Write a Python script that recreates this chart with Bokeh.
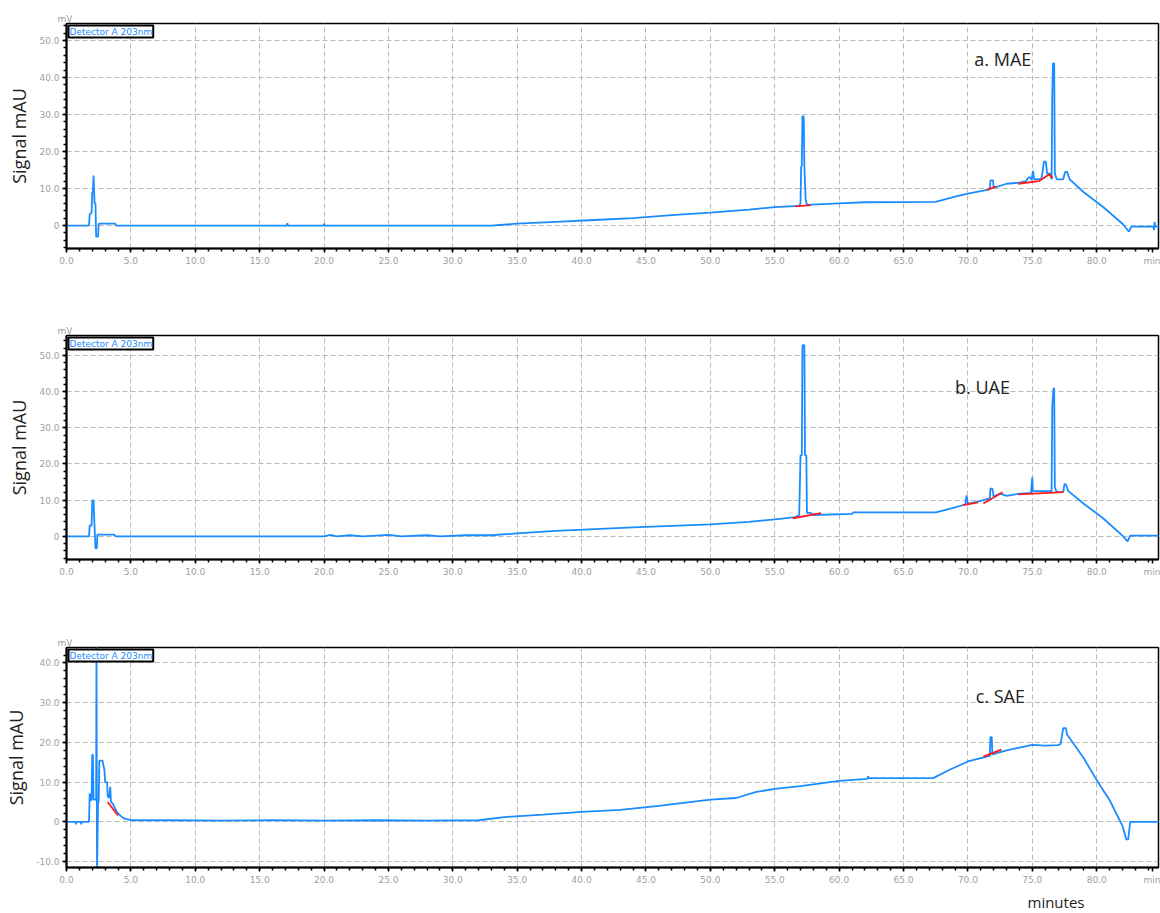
from bokeh.plotting import figure
from bokeh.layouts import column
from bokeh.models import Range1d, FixedTicker, PrintfTickFormatter, Label, Title
from bokeh.embed import file_html
from bokeh.resources import INLINE

# ---------------- data ----------------
# a. MAE chromatogram (time in minutes, signal)
mae_t = [0, 1.75, 1.8, 1.95, 2.0, 2.05, 2.1, 2.18, 2.25, 2.3, 2.45, 2.5, 3.8, 3.85,
         17.1, 17.15, 17.2, 19.95, 20.0, 20.05, 33.0, 35.0, 38.0, 41.0, 44.0, 47.0,
         50.0, 53.0, 55.0, 56.9, 57.0, 57.05, 57.1, 57.15, 57.25, 57.3, 57.4, 57.5,
         60.0, 62.0, 67.5, 69.0, 70.0, 71.0, 71.7, 71.75, 71.95, 72.0, 73.0, 74.0,
         74.5, 74.7, 74.85, 74.95, 75.05, 75.15, 75.7, 75.8, 75.9, 76.05, 76.15,
         76.4, 76.5, 76.55, 76.6, 76.7, 76.75, 76.9, 77.4, 77.55, 77.7, 77.9, 79.0,
         80.5, 82.0, 82.5, 82.7, 84.4, 84.45, 84.5, 84.55, 85.0]
mae_v = [0, 0, 3, 3.5, 9, 9, 13.5, 6, 6, -3, -3, 0.5, 0.5, 0,
         0, 0.6, 0, 0, 0.5, 0, 0, 0.5, 1.0, 1.5, 2.0, 2.8,
         3.5, 4.3, 5.0, 5.3, 6.0, 16.0, 16.0, 29.5, 29.5, 16.0, 7.0, 5.6,
         6.0, 6.3, 6.4, 7.8, 8.6, 9.3, 9.8, 12.2, 12.2, 10.2, 11.3, 11.6,
         12.0, 13.0, 13.0, 12.3, 14.8, 12.5, 12.6, 14.5, 17.3, 17.3, 14.0,
         14.0, 12.5, 35.0, 43.8, 43.8, 14.0, 12.5, 12.5, 14.5, 14.5, 12.5, 9.0,
         5.0, 0.5, -1.6, -0.3, -0.3, -1.2, 1.0, -0.3, -0.3]
mae_base_t = [[56.6, 57.8], [71.5, 72.2], [73.9, 75.5], [75.5, 76.3, 76.6]]
mae_base_v = [[5.2, 5.5], [9.7, 10.5], [11.3, 12.0], [12.0, 13.8, 12.8]]

# b. UAE chromatogram
uae_t = [0, 1.75, 1.8, 1.95, 2.0, 2.1, 2.15, 2.25, 2.35, 2.4, 3.7, 3.8,
         20.0, 20.5, 21.0, 22.0, 23.0, 25.0, 26.0, 28.0, 29.0, 31.0, 33.0,
         35.0, 38.0, 41.0, 44.0, 47.0, 50.0, 53.0, 55.0, 56.6, 56.9, 57.0, 57.1,
         57.15, 57.3, 57.35, 57.45, 57.5, 57.8, 58.0, 61.0, 61.1, 67.5, 68.5,
         69.8, 69.9, 70.0, 71.0, 71.7, 71.75, 71.9, 72.0, 72.5, 73.0, 74.0, 74.9,
         74.95, 75.0, 75.05, 76.0, 76.5, 76.55, 76.65, 76.7, 76.75, 76.9, 77.4,
         77.5, 77.6, 77.8, 79.0, 80.5, 82.0, 82.4, 82.6, 85.0]
uae_v = [0, 0, 3, 3, 9.9, 9.9, 5, -3.3, -3.3, 0.5, 0.5, 0,
         0, 0.4, 0, 0.3, 0, 0.4, 0, 0.3, 0, 0.3, 0.3,
         0.8, 1.5, 2.0, 2.5, 2.9, 3.3, 4.0, 4.7, 5.3, 6.0, 22.4, 22.4,
         52.8, 52.8, 22.4, 22.4, 6.5, 6.5, 5.9, 6.2, 6.6, 6.6, 7.5,
         8.8, 11.3, 9.0, 9.8, 10.5, 13.2, 13.2, 11.0, 11.8, 11.2, 11.8, 12.0,
         14.3, 16.3, 12.5, 12.5, 12.5, 35.9, 40.9, 40.9, 13.5, 12.2, 12.2,
         14.4, 14.4, 12.5, 9.0, 5.0, 0.2, -1.4, 0.2, 0.2]
uae_base_t = [[56.4, 58.6], [69.6, 70.8], [71.2, 72.7], [73.9, 77.4]]
uae_base_v = [[5.0, 6.4], [8.6, 9.4], [9.1, 12.2], [11.6, 12.2]]

# c. SAE chromatogram
sae_t = [0, 0.7, 0.75, 0.8, 1.1, 1.15, 1.2, 1.75, 1.8, 1.9, 1.95, 2.0, 2.05, 2.1,
         2.3, 2.33, 2.37, 2.45, 2.5, 2.55, 2.8, 2.85, 2.95, 3.0, 3.15, 3.2, 3.3,
         3.4, 3.45, 3.6, 3.9, 4.2, 4.5, 5.0, 8.0, 12.0, 16.0, 20.0, 24.0, 28.0,
         32.0, 34.0, 37.0, 40.0, 43.0, 46.0, 50.0, 52.0, 53.5, 55.0, 57.0, 60.0,
         62.2, 62.25, 62.3, 67.3, 68.5, 70.0, 71.7, 71.75, 71.85, 71.9, 73.0,
         74.0, 75.0, 76.0, 77.0, 77.2, 77.4, 77.6, 77.7, 79.0, 80.0, 81.0, 82.0,
         82.3, 82.45, 82.6, 85.0]
sae_v = [0, 0, -0.6, 0, 0, -0.6, 0, 0, 7.1, 5.5, 5.5, 16.9, 16.9, 5.6,
         5.6, 46.0, -13.0, 5.0, 5.0, 15.4, 15.4, 14.5, 13.0, 10.0, 10.0, 6.5, 6.0,
         8.8, 5.0, 4.5, 2.5, 1.5, 0.8, 0.4, 0.4, 0.3, 0.4, 0.3, 0.4, 0.3,
         0.4, 1.2, 1.8, 2.5, 3.0, 4.0, 5.6, 6.0, 7.5, 8.3, 9.0, 10.3,
         10.8, 11.5, 11.0, 11.0, 13.0, 15.2, 16.6, 21.3, 21.3, 17.0, 18.0,
         18.7, 19.4, 19.2, 19.3, 19.6, 23.6, 23.6, 22.0, 16.0, 10.5, 5.5, -1.0,
         -4.4, -4.4, 0.0, 0.0]
sae_base_t = [[3.2, 4.0], [71.2, 72.6]]
sae_base_v = [[5.0, 1.6], [16.4, 18.2]]

# tick labels
x_major = [0, 5, 10, 15, 20, 25, 30, 35, 40, 45, 50, 55, 60, 65, 70, 75, 80]
x_unit_label = "min"
y_major_ab = [0, 10, 20, 30, 40, 50]
y_major_c = [-10, 0, 10, 20, 30, 40]
panel_titles = ["a. MAE", "b. UAE", "c. SAE"]
detector_text = "Detector A 203nm"
y_axis_title = "Signal mAU"
x_axis_title = "minutes"
y_unit = "mV"

BLUE = "#1a8cff"
RED = "#ff1a1a"
GREY_TXT = "#a0a0a0"

X_END = 84.8
UNIT_POS = 84.3


def make_panel(t, v, bt, bv, y0, y1, yticks, title, tpos, height, btop, bbottom,
               xtitle=None):
    p = figure(width=1160, height=height, output_backend="svg",
               toolbar_location=None, x_range=Range1d(0, X_END),
               y_range=Range1d(y0, y1), min_border_left=66, min_border_right=2,
               min_border_top=btop, min_border_bottom=bbottom)
    p.background_fill_color = "white"
    p.border_fill_color = "white"
    p.outline_line_color = "black"
    p.outline_line_width = 1.5

    # x axis
    p.xaxis.ticker = FixedTicker(ticks=x_major + [UNIT_POS],
                                 minor_ticks=[i for i in range(0, 85)])
    p.xaxis.formatter = PrintfTickFormatter(format="%.1f")
    p.xaxis.major_label_overrides = {UNIT_POS: x_unit_label}
    # y axis
    p.yaxis.ticker = FixedTicker(ticks=yticks,
                                 minor_ticks=[i for i in range(-12, 56, 2)])
    p.yaxis.formatter = PrintfTickFormatter(format="%.1f")
    p.yaxis.major_label_overrides = {0: "0"}
    p.yaxis.axis_label = y_axis_title
    p.yaxis.axis_label_text_font = "Open Sans"
    p.yaxis.axis_label_text_font_style = "normal"
    p.yaxis.axis_label_text_font_size = "18px"
    p.yaxis.axis_label_text_color = "#222222"
    p.yaxis.axis_label_standoff = 5
    for ax in (p.xaxis, p.yaxis):
        ax.axis_line_color = "black"
        ax.axis_line_width = 2
        ax.major_tick_line_color = "black"
        ax.minor_tick_line_color = "black"
        ax.major_tick_line_width = 1.5
        ax.minor_tick_line_width = 1.5
        ax.major_tick_in = 0
        ax.major_tick_out = 4
        ax.minor_tick_in = 0
        ax.minor_tick_out = 3
        ax.major_label_text_font = "DejaVu Sans"
        ax.major_label_text_font_size = "9px"
        ax.major_label_text_color = GREY_TXT
        ax.major_label_standoff = 3

    # grid
    p.xgrid.ticker = FixedTicker(ticks=x_major)
    p.ygrid.ticker = FixedTicker(ticks=yticks)
    for g in (p.xgrid, p.ygrid):
        g.grid_line_color = "#b8b8b8"
        g.grid_line_dash = "5 3"
        g.grid_line_width = 1

    p.line(t, v, line_color=BLUE, line_width=1.8)
    p.multi_line(bt, bv, line_color=RED, line_width=1.8)

    # detector box
    p.add_layout(Label(x=0, y=y1, text=detector_text, text_align="left",
                       text_baseline="top", text_font="DejaVu Sans",
                       text_font_size="9px", text_color=BLUE,
                       text_line_height=1.0,
                       x_offset=2, y_offset=-2,
                       border_line_color="black", border_line_width=2,
                       background_fill_color="white", padding=1))
    # mV unit above axis
    p.add_layout(Title(text=y_unit, align="left", offset=-9, standoff=0,
                       text_font="DejaVu Sans", text_font_size="9px",
                       text_font_style="normal", text_color=GREY_TXT), "above")
    # panel title
    p.add_layout(Label(x=tpos[0], y=tpos[1], text=title, text_align="left",
                       text_baseline="middle", text_font="Open Sans",
                       text_font_size="18px", text_color="#222222"))
    if xtitle:
        p.add_layout(Title(text=xtitle, align="left", offset=961, standoff=4,
                           text_font="Open Sans", text_font_size="15px",
                           text_font_style="normal", text_color="#222222"),
                     "below")
    return p


p1 = make_panel(mae_t, mae_v, mae_base_t, mae_base_v, -6.2, 54.6, y_major_ab,
                panel_titles[0], (70.5, 45.1), 296, 23, 48)
p2 = make_panel(uae_t, uae_v, uae_base_t, uae_base_v, -6.4, 55.5, y_major_ab,
                panel_titles[1], (69.0, 41.2), 308, 39, 45)
p3 = make_panel(sae_t, sae_v, sae_base_t, sae_base_v, -11.5, 43.9, y_major_c,
                panel_titles[2], (70.6, 31.7), 309, 43, 41, xtitle=x_axis_title)

layout = column(p1, p2, p3, spacing=0)
open("out.html", "w").write(file_html(layout, INLINE))
